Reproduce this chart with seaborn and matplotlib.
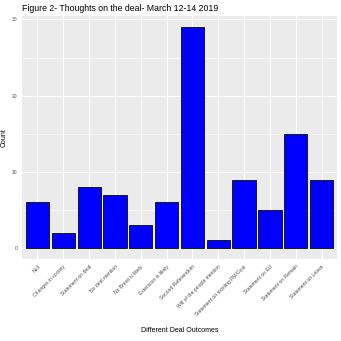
import matplotlib
matplotlib.use("Agg")
import matplotlib.pyplot as plt
import seaborn as sns
import pandas as pd
from matplotlib.ticker import MultipleLocator

categories = ["Null", "Changes in society", "Statement on deal", "No deal mention",
              "No Brexit is likely", "Extension is likely", "Second Referendum",
              "Will of the people mention", "Statement on existing PM/Govt",
              "Statement on EU", "Statement on Remain", "Statement on Leave"]
counts = [6, 2, 8, 7, 3, 6, 29, 1, 9, 5, 15, 9]

df = pd.DataFrame({"outcome": categories, "count": counts})

sns.set_theme(style="darkgrid")
plt.rcParams['font.family'] = ['Liberation Sans', 'DejaVu Sans']

fig = plt.figure(figsize=(3.41, 3.41), dpi=100)
ax = fig.add_axes([0.0645, 0.240, 0.924, 0.713])
ax.set_facecolor("#EBEBEB")

sns.barplot(data=df, x="outcome", y="count", color="blue", edgecolor="#1a1a1a",
            linewidth=0.7, width=0.9, saturation=1, ax=ax, zorder=3)

n = len(categories)
ax.set_xlim(-0.6, n - 0.4)
ax.set_ylim(-29 * 0.05, 29 * 1.05)
ax.yaxis.set_major_locator(MultipleLocator(10))
ax.yaxis.set_minor_locator(MultipleLocator(5))
ax.grid(which="major", color="white", linewidth=0.8, zorder=0)
ax.grid(which="minor", axis="y", color="white", linewidth=0.4, zorder=0)
ax.set_axisbelow(True)
for s in ax.spines.values():
    s.set_visible(False)

ax.tick_params(axis="both", which="major", length=2, width=0.5, color="#333333",
               labelsize=3.6, labelcolor="#4D4D4D", pad=1.5)
ax.tick_params(axis="both", which="minor", length=0)
plt.setp(ax.get_xticklabels(), rotation=45, ha="right", rotation_mode="anchor")

ax.set_xlabel("")
fig.text(0.5265, 1 - 330 / 341, "Different Deal Outcomes", fontsize=5, color="black",
         ha="center", va="center")
ax.set_ylabel("Count", fontsize=5, color="black", labelpad=3)
fig.text(0.0645, 0.975, "Figure 2- Thoughts on the deal- March 12-14 2019",
         fontsize=6.3, color="black", ha="left", va="center")

fig.savefig("out.png", dpi=100, facecolor="white")
